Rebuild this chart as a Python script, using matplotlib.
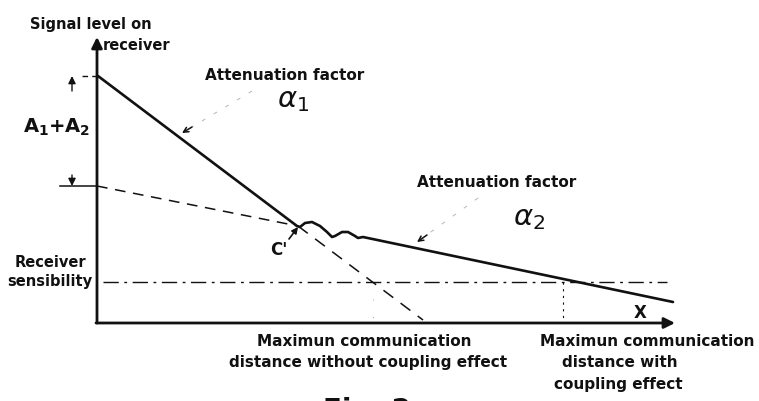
import matplotlib.pyplot as plt

# ---- diagram data (pixel-like coordinates, y grows downward) ----
# received signal: steep alpha1 part, coupling ripple near C, then shallow alpha2 part
signal_x = [98, 297, 300, 305, 312, 320, 327, 332, 335, 342, 348, 355, 358, 363, 673]
signal_y = [77, 227, 228, 224, 223, 227, 233, 238, 237, 233, 233, 237, 239, 238, 303]

# alpha2 line extrapolated back to the vertical axis
alpha2_ext_x = [97, 298]
alpha2_ext_y = [187, 227]

# alpha1 line continued without coupling effect
alpha1_ext_x = [298, 423]
alpha1_ext_y = [227, 321]

# receiver sensibility level
sens_x = [103, 667]
sens_y = [283, 283]

# distance marks
dist_coupled_x = [563, 563]
dist_coupled_y = [283, 323]
dist_plain_x = [373, 373]
dist_plain_y = [300, 324]

# axes
origin = (97, 324)
y_axis_top = (97, 38)
x_axis_end = (675, 324)

plt.rcParams['font.family'] = ['DejaVu Sans']
plt.rcParams['mathtext.fontset'] = 'dejavusans'

fig = plt.figure(figsize=(7.59, 4.02), dpi=100)
ax = fig.add_axes([0, 0, 1, 1])
ax.set_xlim(0, 759)
ax.set_ylim(402, 0)
ax.axis('off')

ink = '#111111'

# axes with arrow heads
ax.annotate('', xy=y_axis_top, xytext=origin,
            arrowprops=dict(arrowstyle='-|>', lw=2.0, color=ink, mutation_scale=16,
                            shrinkA=0, shrinkB=0))
ax.annotate('', xy=x_axis_end, xytext=(origin[0] - 1, origin[1]),
            arrowprops=dict(arrowstyle='-|>', lw=2.0, color=ink, mutation_scale=16,
                            shrinkA=0, shrinkB=0))

# signal curve
ax.plot(signal_x, signal_y, color=ink, lw=1.9, solid_capstyle='round', solid_joinstyle='round')

# dashed extrapolations
ax.plot(alpha2_ext_x, alpha2_ext_y, color=ink, lw=1.1, linestyle=(0, (7, 5)))
ax.plot(alpha1_ext_x, alpha1_ext_y, color=ink, lw=1.1, linestyle=(0, (8, 6)))

# sensibility level (dash-dot)
ax.plot(sens_x, sens_y, color=ink, lw=1.0, linestyle=(0, (11, 4, 2, 4)))

# vertical distance marks
ax.plot(dist_coupled_x, dist_coupled_y, color=ink, lw=0.8, linestyle=(0, (2, 4)))
ax.plot(dist_plain_x, dist_plain_y, color='#888888', lw=0.6, linestyle=(0, (1, 20)))

# A1+A2 level ticks and arrows
ax.plot([82, 97], [77, 77], color=ink, lw=1.0, linestyle=(0, (4, 3)))
ax.plot([60, 97], [187, 187], color=ink, lw=1.1)
ax.annotate('', xy=(72, 77), xytext=(72, 92),
            arrowprops=dict(arrowstyle='-|>', lw=1.0, color=ink, mutation_scale=11,
                            shrinkA=0, shrinkB=0))
ax.annotate('', xy=(72, 187), xytext=(72, 176),
            arrowprops=dict(arrowstyle='-|>', lw=1.0, color=ink, mutation_scale=11,
                            shrinkA=0, shrinkB=0))

# attenuation factor pointers (faint dashed leaders)
ax.plot([252, 182], [92, 134], color='#b5b5b5', lw=0.7, linestyle=(0, (4, 10)))
ax.annotate('', xy=(182, 134), xytext=(192, 128),
            arrowprops=dict(arrowstyle='->', lw=1.1, color=ink, mutation_scale=9,
                            shrinkA=0, shrinkB=0))
ax.plot([478, 417], [199, 243], color='#b5b5b5', lw=0.7, linestyle=(0, (4, 10)))
ax.annotate('', xy=(417, 243), xytext=(427, 236),
            arrowprops=dict(arrowstyle='->', lw=1.1, color=ink, mutation_scale=9,
                            shrinkA=0, shrinkB=0))

# point C
ax.annotate('', xy=(298, 228), xytext=(289, 240),
            arrowprops=dict(arrowstyle='-|>', lw=1.2, color=ink, mutation_scale=9,
                            shrinkA=0, shrinkB=0))

txt = dict(color=ink, fontweight='bold')
ax.text(30, 24, 'Signal level on', fontsize=10.5, ha='left', va='center', **txt)
ax.text(103, 45, 'receiver', fontsize=10.5, ha='left', va='center', **txt)
ax.text(23, 127, r'$\mathbf{A_1{+}A_2}$', fontsize=14, ha='left', va='center', **txt)
ax.text(205, 75, 'Attenuation factor', fontsize=11, ha='left', va='center', **txt)
ax.text(277, 100, r'$\alpha_1$', fontsize=21, ha='left', va='center', color=ink)
ax.text(417, 183, 'Attenuation factor', fontsize=11, ha='left', va='center', **txt)
ax.text(513, 218, r'$\alpha_2$', fontsize=21, ha='left', va='center', color=ink)
ax.text(279, 250, "C'", fontsize=12, ha='center', va='center', **txt)
ax.text(50, 263, 'Receiver', fontsize=10.5, ha='center', va='center', **txt)
ax.text(50, 282, 'sensibility', fontsize=10.5, ha='center', va='center', **txt)
ax.text(640, 313, 'X', fontsize=12, ha='center', va='center', **txt)

ax.text(364, 342, 'Maximun communication', fontsize=11, ha='center', va='center', **txt)
ax.text(368, 363, 'distance without coupling effect', fontsize=11, ha='center', va='center', **txt)
ax.text(647, 342, 'Maximun communication', fontsize=11, ha='center', va='center', **txt)
ax.text(620, 363, 'distance with', fontsize=11, ha='center', va='center', **txt)
ax.text(618, 385, 'coupling effect', fontsize=11, ha='center', va='center', **txt)

# figure caption, running off the bottom edge
ax.text(323, 397, 'Fig. 2', fontsize=20, ha='left', va='top', clip_on=False, **txt)

fig.savefig('out.png', dpi=100)
